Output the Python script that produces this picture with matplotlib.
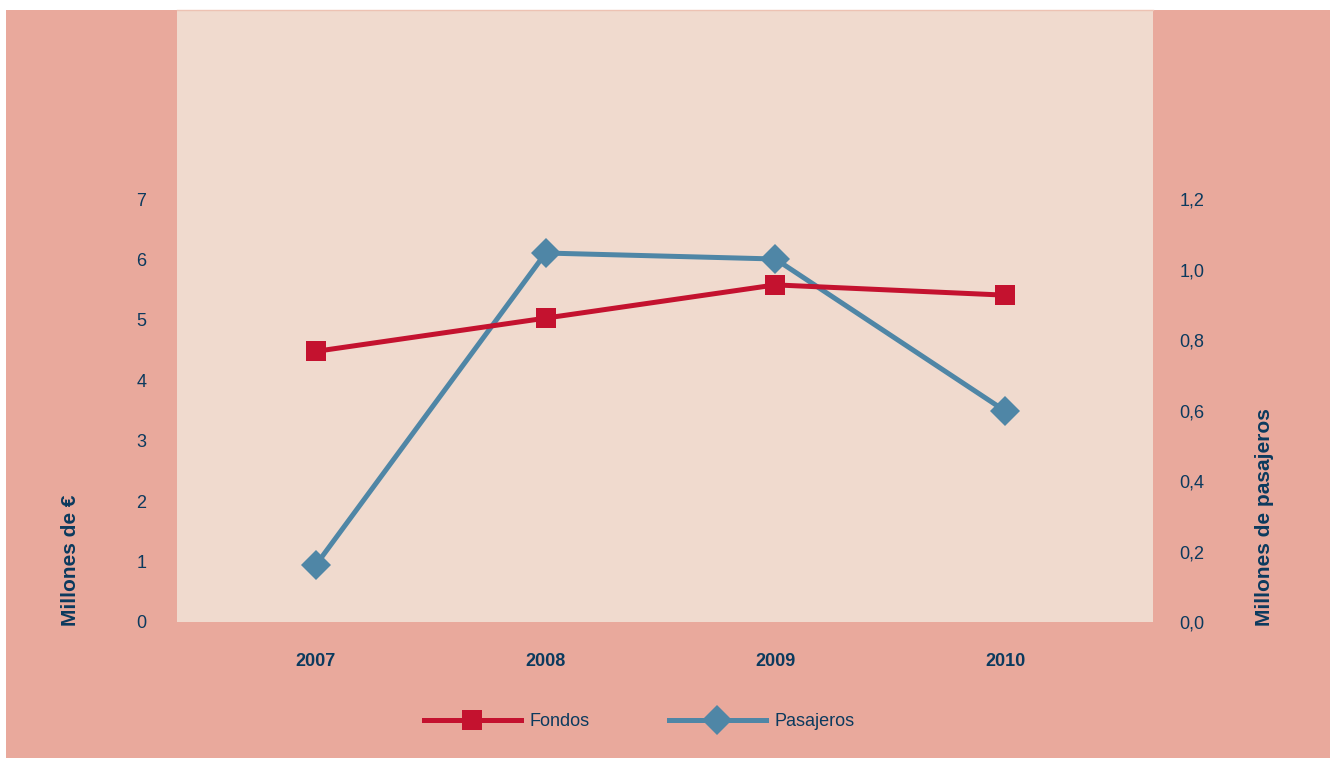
import matplotlib
matplotlib.use("Agg")
import matplotlib.pyplot as plt
from matplotlib.patches import Rectangle

plt.rcParams['font.family'] = ['Liberation Sans', 'DejaVu Sans']

# data
years = [2007, 2008, 2009, 2010]
fondos = [4.48, 5.03, 5.58, 5.41]          # millones de euros (left axis)
pasajeros = [0.162, 1.047, 1.030, 0.599]   # millones de pasajeros (right axis)
left_ticks = [0, 1, 2, 3, 4, 5, 6, 7]
right_ticks = [0.0, 0.2, 0.4, 0.6, 0.8, 1.0, 1.2]
right_labels = ['0,0', '0,2', '0,4', '0,6', '0,8', '1,0', '1,2']

outer_bg = '#E9A99C'
inner_bg = '#F0DACE'
navy = '#0B3A5E'
red = '#C4122F'
blue = '#4F86A6'

fig = plt.figure(figsize=(13.34, 7.58), dpi=100, facecolor='white')
fig.patches.append(Rectangle((6 / 1334, 0), 1324 / 1334, 748 / 758,
                             transform=fig.transFigure, facecolor=outer_bg,
                             edgecolor='none', zorder=0))

ax = fig.add_axes([177 / 1334, 1 - 622 / 758, 976 / 1334, 612 / 758])
ax.set_facecolor(inner_bg)
ax2 = ax.twinx()

top_left = 10.13
ax.set_ylim(0, top_left)
ax2.set_ylim(0, top_left * 1.2 / 7)
ax.set_xlim(2006.395, 2010.644)

# pasajeros first so fondos sits on top
ax.set_zorder(2)
ax2.set_zorder(1)
ax.patch.set_visible(False)
ax2.patch.set_visible(True)
ax2.patch.set_facecolor(inner_bg)

l2, = ax2.plot(years, pasajeros, color=blue, lw=3.6, marker='D',
               markersize=14.8, mew=0, label='Pasajeros')
l1, = ax.plot(years, fondos, color=red, lw=3.6, marker='s',
              markersize=15, mew=0, label='Fondos')

for a in (ax, ax2):
    for s in a.spines.values():
        s.set_visible(False)
    a.tick_params(length=0, labelcolor=navy, labelsize=13)
ax2.spines['top'].set_visible(True)
ax2.spines['top'].set_color('#EDC2B3')
ax2.spines['top'].set_linewidth(1)

ax.set_yticks(left_ticks)
ax.tick_params(axis='y', pad=22)
ax2.set_yticks(right_ticks)
ax2.set_yticklabels(right_labels)
ax2.tick_params(axis='y', pad=19)
ax.set_xticks(years)
ax.set_xticklabels([str(y) for y in years], fontweight='bold')
ax.tick_params(axis='x', pad=22)

fig.text(70 / 1334, 1 - 626 / 758, 'Millones de €', rotation=90, ha='center',
         va='bottom', color=navy, fontsize=15, fontweight='bold')
fig.text(1265 / 1334, 1 - 626 / 758, 'Millones de pasajeros', rotation=90,
         ha='center', va='bottom', color=navy, fontsize=15, fontweight='bold')

leg = fig.legend([l1, l2], ['Fondos', 'Pasajeros'], loc='center',
                 bbox_to_anchor=(639 / 1334, 1 - 722 / 758), ncol=2,
                 frameon=False, fontsize=13, handlelength=5.4,
                 handletextpad=0.45, columnspacing=4.4)
for t in leg.get_texts():
    t.set_color(navy)

fig.savefig('out.png', dpi=100, facecolor=fig.get_facecolor())
